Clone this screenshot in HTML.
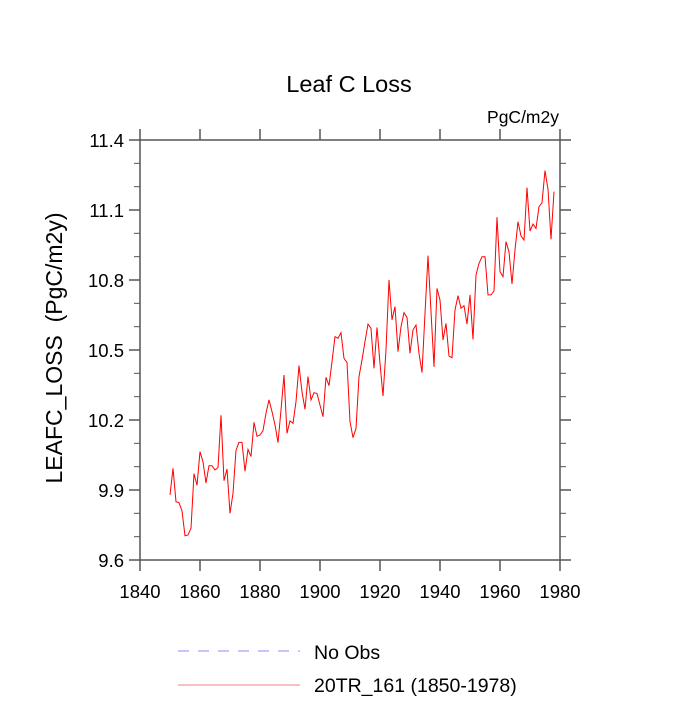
<!DOCTYPE html>
<html><head><meta charset="utf-8"><style>
body{margin:0;background:#fff}
svg text{font-family:"Liberation Sans",sans-serif;fill:#000}
</style></head><body>
<svg id="chart" width="700" height="700" viewBox="0 0 700 700" xmlns="http://www.w3.org/2000/svg">
<text x="349" y="92" font-size="23.5" text-anchor="middle">Leaf C Loss</text>
<text x="559" y="123" font-size="17.5" text-anchor="end">PgC/m2y</text>
<text transform="translate(62,348) rotate(-90)" font-size="23" text-anchor="middle" style="white-space:pre" xml:space="preserve">LEAFC_LOSS  (PgC/m2y)</text>
<g id="axes"></g>
<g id="series"></g>
<g>
<line x1="178" y1="651" x2="300" y2="651" stroke="#8c8cff" stroke-width="1" stroke-dasharray="11,9"/>
<text x="314" y="659" font-size="19.5">No Obs</text>
<line x1="178" y1="685" x2="300" y2="685" stroke="#f08080" stroke-width="1"/>
<text x="314" y="692" font-size="19.5">20TR_161 (1850-1978)</text>
</g>
</svg>
<script>
const years=[];for(let y=1850;y<=1978;y++)years.push(y);
const values=[9.879,9.993,9.85,9.846,9.81,9.704,9.707,9.736,9.97,9.92,
10.064,10.021,9.93,10.004,10.004,9.986,9.996,10.22,9.94,9.99,
9.8,9.886,10.07,10.104,10.104,9.98,10.074,10.043,10.19,10.13,
10.136,10.154,10.229,10.286,10.236,10.179,10.103,10.243,10.393,10.143,
10.196,10.186,10.279,10.433,10.321,10.246,10.386,10.286,10.317,10.314,
10.264,10.214,10.383,10.347,10.45,10.557,10.55,10.574,10.464,10.447,
10.193,10.124,10.164,10.386,10.457,10.536,10.611,10.593,10.421,10.597,
10.443,10.303,10.5,10.8,10.629,10.686,10.493,10.6,10.66,10.64,
10.486,10.586,10.607,10.486,10.403,10.657,10.904,10.664,10.428,10.764,
10.714,10.543,10.614,10.474,10.467,10.671,10.733,10.679,10.69,10.611,
10.736,10.546,10.821,10.871,10.9,10.9,10.736,10.736,10.753,11.069,
10.836,10.814,10.964,10.921,10.783,10.929,11.05,10.989,10.971,11.196,
11.01,11.04,11.021,11.114,11.131,11.269,11.189,10.974,11.179];
const xTicks=[1840,1860,1880,1900,1920,1940,1960,1980];
const yTicks=[9.6,9.9,10.2,10.5,10.8,11.1,11.4];
const yMinor=[9.7,9.8,10.0,10.1,10.3,10.4,10.6,10.7,10.9,11.0,11.2,11.3];
const X0=140,X1=560,Y0=560,Y1=140;
const xs=v=>X0+(v-1840)/(1980-1840)*(X1-X0);
const ys=v=>Y0-(v-9.6)/(11.4-9.6)*(Y0-Y1);
const NS="http://www.w3.org/2000/svg";
const ax=document.getElementById('axes');
function mk(t,a,p){const e=document.createElementNS(NS,t);for(const k in a)e.setAttribute(k,a[k]);(p||ax).appendChild(e);return e;}
const frame=mk('rect',{x:X0,y:Y1,width:X1-X0,height:Y0-Y1,fill:'none',stroke:'#555','stroke-width':1.5});


xTicks.forEach(t=>{const x=xs(t);
 const a=mk('line',{x1:x,y1:Y0,x2:x,y2:Y0+11,stroke:'#555','stroke-width':1.5});
 
 
 const b=mk('line',{x1:x,y1:Y1,x2:x,y2:Y1-11,stroke:'#555','stroke-width':1.5});
 
 
 const l=mk('text',{x:x,y:Y0+38,'font-size':18.5,'text-anchor':'middle'});l.textContent=t;
 
 
});
yTicks.forEach(t=>{const y=ys(t);
 const a=mk('line',{x1:X0-11,y1:y,x2:X0,y2:y,stroke:'#555','stroke-width':1.5});
 
 
 const b=mk('line',{x1:X1,y1:y,x2:X1+11,y2:y,stroke:'#555','stroke-width':1.5});
 
 
 const l=mk('text',{x:X0-16,y:y+7,'font-size':18.5,'text-anchor':'end'});l.textContent=t.toFixed(1);
 
 
});
yMinor.forEach(t=>{const y=ys(t);
 const a=mk('line',{x1:X0-6,y1:y,x2:X0,y2:y,stroke:'#555','stroke-width':1});
 
 
 const b=mk('line',{x1:X1,y1:y,x2:X1+6,y2:y,stroke:'#555','stroke-width':1});
 
 
});
const pts=years.map((yr,i)=>xs(yr).toFixed(1)+','+ys(values[i]).toFixed(1)).join(' ');
const pl=mk('polyline',{points:pts,fill:'none',stroke:'#ff0000','stroke-width':1},document.getElementById('series'));


</script>
</body></html>
